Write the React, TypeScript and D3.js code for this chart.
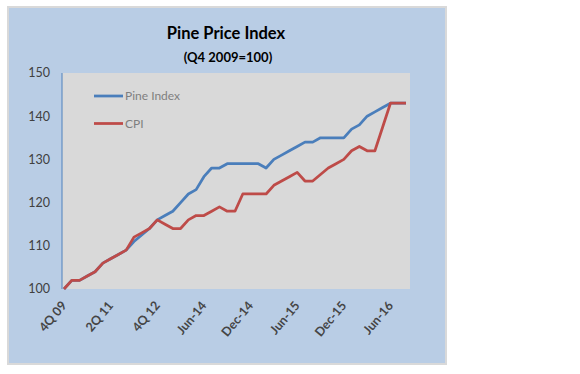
import React from "react";
import * as d3 from "d3";

const categories = [
  "4Q 09", "1Q 10", "2Q 10", "3Q 10", "4Q 10", "1Q 11", "2Q 11", "3Q 11", "4Q 11",
  "1Q 12", "2Q 12", "3Q 12", "4Q 12", "1Q 13", "2Q 13", "3Q 13", "4Q 13", "1Q 14",
  "Jun-14", "Jul-14", "Aug-14", "Sep-14", "Oct-14", "Nov-14", "Dec-14",
  "Jan-15", "Feb-15", "Mar-15", "Apr-15", "May-15", "Jun-15", "Jul-15", "Aug-15",
  "Sep-15", "Oct-15", "Nov-15", "Dec-15", "Jan-16", "Feb-16", "Mar-16", "Apr-16",
  "May-16", "Jun-16", "Jul-16", "Aug-16",
];

const pineIndex = [
  100, 102, 102, 103, 104, 106, 107, 108, 109, 111, 112.5, 114, 116, 117, 118, 120,
  122, 123, 126, 128, 128, 129, 129, 129, 129, 129, 128, 130, 131, 132, 133, 134,
  134, 135, 135, 135, 135, 137, 138, 140, 141, 142, 143, 143, 143,
];

const cpi = [
  100, 102, 102, 103, 104, 106, 107, 108, 109, 112, 113, 114, 116, 115, 114, 114,
  116, 117, 117, 118, 119, 118, 118, 122, 122, 122, 122, 124, 125, 126, 127, 125,
  125, 126.5, 128, 129, 130, 132, 133, 132, 132, 137.5, 143, 143, 143,
];

const tickLabels = ["4Q 09", "2Q 11", "4Q 12", "Jun-14", "Dec-14", "Jun-15", "Dec-15", "Jun-16"];
const yTicks = [100, 110, 120, 130, 140, 150];

const FONT = "Lato, 'Open Sans', sans-serif";

export default function App() {
  const plot = { left: 62, top: 73, right: 410, bottom: 289 };
  const x = d3.scalePoint<string>().domain(categories).range([64, 406]);
  const y = d3.scaleLinear().domain([100, 150]).range([plot.bottom, plot.top]);
  const line = d3
    .line<number>()
    .x((_, i) => x(categories[i]) as number)
    .y((d) => y(d));

  return (
    <svg
      width={580}
      height={374}
      style={{ position: "absolute", left: 0, top: 0, background: "#fff" }}
    >
      <rect x={8} y={7} width={438} height={357} fill="#b9cde5" stroke="#d9d9d9" strokeWidth={2} />
      <rect
        x={plot.left}
        y={plot.top}
        width={plot.right - plot.left}
        height={plot.bottom - plot.top}
        fill="#d9d9d9"
      />
      <line x1={plot.left} x2={plot.left} y1={plot.top} y2={plot.bottom} stroke="#4f81bd" strokeWidth={1} />

      <text x={226} y={39} textAnchor="middle" fontFamily={FONT} fontWeight="bold" fontSize={16.5} fill="#000">
        Pine Price Index
      </text>
      <text x={228} y={62} textAnchor="middle" fontFamily={FONT} fontWeight="bold" fontSize={13} fill="#000">
        (Q4 2009=100)
      </text>

      {yTicks.map((t) => (
        <text key={t} x={50} y={y(t)} dy="0.35em" textAnchor="end" fontFamily={FONT} fontSize={12.5} fill="#404040">
          {t}
        </text>
      ))}

      {tickLabels.map((t) => {
        const px = (x(t) as number);
        const py = 303;
        return (
          <text
            key={t}
            x={px}
            y={py}
            transform={`rotate(-50 ${px} ${py})`}
            textAnchor="end"
            dy="0.35em"
            fontFamily={FONT}
            fontWeight="bold"
            fontSize={12.5}
            fill="#454545"
          >
            {t}
          </text>
        );
      })}

      <path d={line(pineIndex) || ""} fill="none" stroke="#4a7ebb" strokeWidth={2.75} strokeLinejoin="round" />
      <path d={line(cpi) || ""} fill="none" stroke="#be4b48" strokeWidth={2.75} strokeLinejoin="round" />

      <line x1={94} x2={123} y1={96} y2={96} stroke="#4a7ebb" strokeWidth={2.75} />
      <text x={125} y={96} dy="0.35em" fontFamily={FONT} fontSize={12} fill="#7f7f7f">
        Pine Index
      </text>
      <line x1={94} x2={123} y1={123.5} y2={123.5} stroke="#be4b48" strokeWidth={2.75} />
      <text x={125} y={123.5} dy="0.35em" fontFamily={FONT} fontSize={12} fill="#7f7f7f">
        CPI
      </text>
    </svg>
  );
}
